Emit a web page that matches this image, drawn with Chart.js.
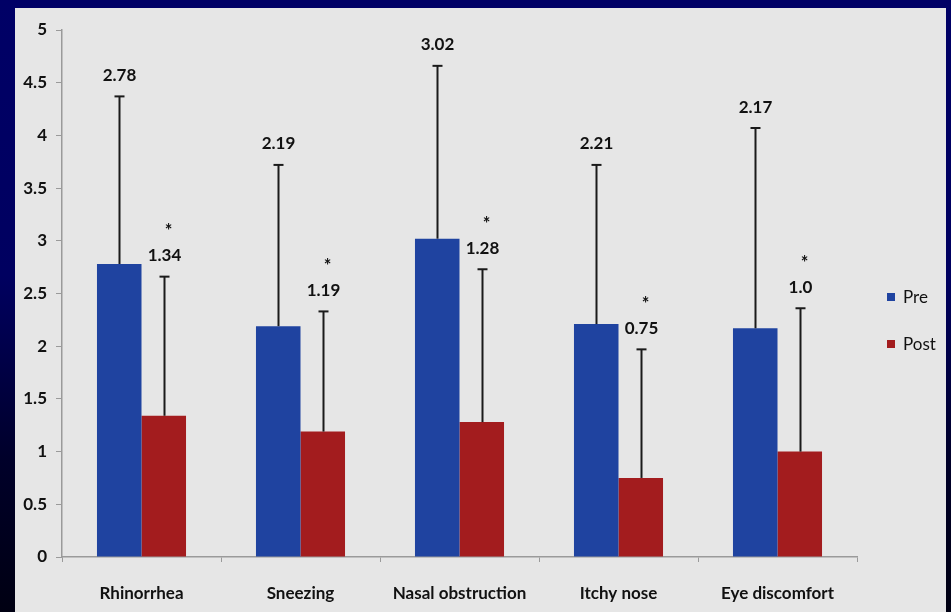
<!DOCTYPE html>
<html>
<head>
<meta charset="utf-8">
<script src="https://cdn.jsdelivr.net/npm/chart.js@4/dist/chart.umd.min.js"></script>
<style>
  html, body { margin: 0; padding: 0; }
  body {
    width: 951px; height: 612px; overflow: hidden; position: relative;
    background: linear-gradient(to bottom, #000066 0%, #000060 45%, #00002a 75%, #000012 100%);
  }
  #panel {
    position: absolute; left: 15px; top: 8px; width: 931px; height: 604px;
    background: #e6e6e6;
  }
</style>
</head>
<body>
<div id="panel"><canvas id="chart" width="931" height="604"></canvas></div>
<script>
// Symptom scores before and after treatment (mean, SD)
const categories = ['Rhinorrhea', 'Sneezing', 'Nasal obstruction', 'Itchy nose', 'Eye discomfort'];
const preMeans  = [2.78, 2.19, 3.02, 2.21, 2.17];
const postMeans = [1.34, 1.19, 1.28, 0.75, 1.0];
const preSD     = [1.59, 1.53, 1.64, 1.51, 1.90];
const postSD    = [1.32, 1.14, 1.45, 1.22, 1.36];
const postLabels = ['1.34', '1.19', '1.28', '0.75', '1.0'];
const preLabels  = ['2.78', '2.19', '3.02', '2.21', '2.17'];
const significant = [true, true, true, true, true];
const yTicks = [0, 0.5, 1, 1.5, 2, 2.5, 3, 3.5, 4, 4.5, 5];

const BLUE = '#1f43a0';
const RED = '#a31c1e';
const FONT = 'Lato, "Open Sans", sans-serif';

// Upper error whiskers, value labels and significance marks
const errorBarPlugin = {
  id: 'errorBars',
  afterDatasetsDraw(chart) {
    const { ctx } = chart;
    const y = chart.scales.y;
    const sets = [
      { means: preMeans, sd: preSD, labels: preLabels, star: null },
      { means: postMeans, sd: postSD, labels: postLabels, star: significant }
    ];
    ctx.save();
    sets.forEach((s, di) => {
      const meta = chart.getDatasetMeta(di);
      meta.data.forEach((bar, i) => {
        const x = Math.round(bar.x) + 0.5;
        const top = y.getPixelForValue(s.means[i]);
        const cap = y.getPixelForValue(s.means[i] + s.sd[i]);
        ctx.strokeStyle = '#1a1a1a';
        ctx.lineWidth = 2;
        ctx.beginPath();
        ctx.moveTo(x, top);
        ctx.lineTo(x, cap);
        ctx.stroke();
        ctx.beginPath();
        ctx.moveTo(x - 5, cap);
        ctx.lineTo(x + 5, cap);
        ctx.stroke();
        ctx.fillStyle = '#111';
        ctx.font = 'bold 17px ' + FONT;
        ctx.textAlign = 'center';
        ctx.textBaseline = 'middle';
        ctx.fillText(s.labels[i], x, cap - 21);
        if (s.star && s.star[i]) {
          ctx.font = 'bold 18px ' + FONT;
          ctx.fillText('*', x + 4, cap - 45);
        }
      });
    });
    ctx.restore();
  }
};

// Legend drawn at the right of the plot
const sideLegendPlugin = {
  id: 'sideLegend',
  afterDraw(chart) {
    const { ctx } = chart;
    ctx.save();
    ctx.font = '17px ' + FONT;
    ctx.textBaseline = 'middle';
    ctx.textAlign = 'left';
    chart.data.datasets.forEach((ds, i) => {
      const cy = 289 + i * 47;
      ctx.fillStyle = ds.backgroundColor;
      ctx.fillRect(872, cy - 4, 8, 8);
      ctx.fillStyle = '#111';
      ctx.fillText(ds.label, 888, cy + 1);
    });
    ctx.restore();
  }
};

new Chart(document.getElementById('chart'), {
  type: 'bar',
  data: {
    labels: categories,
    datasets: [
      { label: 'Pre', data: preMeans, backgroundColor: BLUE },
      { label: 'Post', data: postMeans, backgroundColor: RED }
    ]
  },
  options: {
    responsive: false,
    animation: false,
    events: [],
    layout: { padding: { top: 22, right: 89, left: 0, bottom: 0 } },
    plugins: { legend: { display: false }, tooltip: { enabled: false } },
    datasets: { bar: { categoryPercentage: 0.56, barPercentage: 1.0 } },
    scales: {
      x: {
        afterFit(scale) { scale.height = 55; },
        grid: { offset: true, drawOnChartArea: false, drawTicks: true, tickLength: 5, tickColor: '#9a9a9a' },
        border: { color: '#9a9a9a', width: 1.5 },
        ticks: { color: '#111', padding: 21, font: { family: FONT, size: 17, weight: 'bold' } }
      },
      y: {
        min: 0, max: 5,
        afterFit(scale) { scale.width = 47; },
        afterBuildTicks(scale) { scale.ticks = yTicks.map(v => ({ value: v })); },
        grid: { drawOnChartArea: false, drawTicks: true, tickLength: 6, tickColor: '#9a9a9a' },
        border: { color: '#9a9a9a', width: 1.5 },
        ticks: { color: '#111', padding: 9, font: { family: FONT, size: 17, weight: 'bold' },
                 callback: v => String(v) }
      }
    }
  },
  plugins: [errorBarPlugin, sideLegendPlugin]
});
</script>
</body>
</html>
